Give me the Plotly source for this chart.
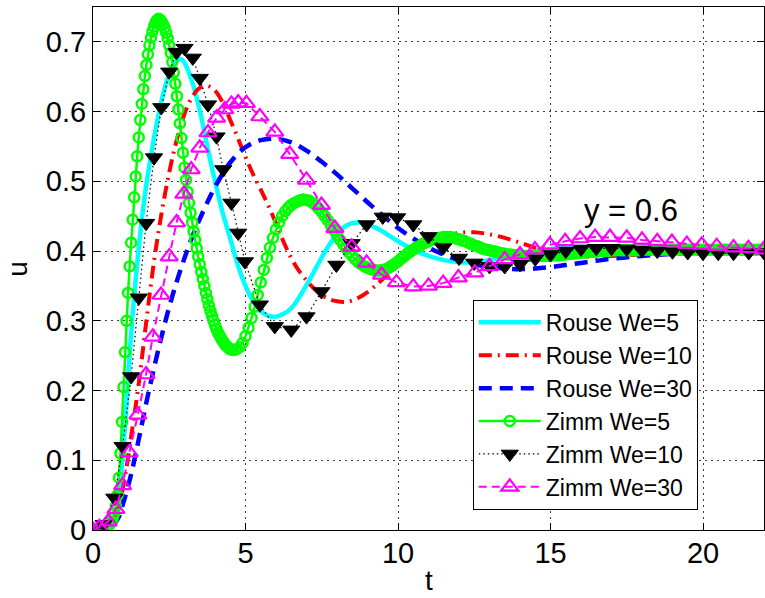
import plotly.graph_objects as go

# ---------------- data ----------------
X_TICKS = [0, 5, 10, 15, 20]
X_TICK_TEXT = ["0", "5", "10", "15", "20"]
Y_TICKS = [0, 0.1, 0.2, 0.3, 0.4, 0.5, 0.6, 0.7]
Y_TICK_TEXT = ["0", "0.1", "0.2", "0.3", "0.4", "0.5", "0.6", "0.7"]

# Rouse We=5 (cyan solid)
T_ROUSE5 = [0, 0.3, 0.6, 0.8, 0.9, 1.0, 1.1, 1.2, 1.3, 1.4, 1.5, 1.6, 1.7, 1.8, 1.9,
            2.0, 2.1, 2.2, 2.3, 2.4, 2.5, 2.6, 2.7, 2.8, 2.9, 3.0, 3.25, 3.5, 3.75, 4.0,
            4.25, 4.5, 4.75, 5.0, 5.25, 5.5, 5.75, 6.0, 6.25, 6.5, 6.75, 7.0, 7.25, 7.5,
            7.75, 8.0, 8.25, 8.5, 8.75, 9.0, 9.25, 9.5, 9.75, 10.0, 10.5, 11.0, 11.5,
            12.0, 12.5, 13.0, 13.5, 14.0, 14.5, 15.0, 15.5, 16.0, 17.0, 18.0, 19.0,
            20.0, 21.0, 22.0]
U_ROUSE5 = [0, 0.0, 0.008, 0.03, 0.07, 0.12, 0.18, 0.25, 0.31, 0.36, 0.405, 0.445, 0.48,
            0.51, 0.537, 0.562, 0.585, 0.606, 0.625, 0.641, 0.654, 0.664, 0.671, 0.675,
            0.675, 0.670, 0.643, 0.602, 0.55, 0.50, 0.455, 0.418, 0.38, 0.35, 0.328,
            0.314, 0.307, 0.306, 0.31, 0.318, 0.333, 0.351, 0.371, 0.391, 0.409, 0.424,
            0.435, 0.44, 0.441, 0.438, 0.434, 0.428, 0.421, 0.414, 0.402, 0.393, 0.387,
            0.384, 0.384, 0.387, 0.391, 0.396, 0.4, 0.403, 0.405, 0.406, 0.406, 0.405,
            0.403, 0.402, 0.401, 0.401]

# Rouse We=10 (red dash-dot)
T_ROUSE10 = [0, 0.5, 0.75, 1.0, 1.25, 1.5, 1.75, 2.0, 2.25, 2.5, 2.75, 3.0, 3.25, 3.5,
             3.75, 4.0, 4.25, 4.5, 4.75, 5.0, 5.25, 5.5, 5.75, 6.0, 6.25, 6.5, 6.75, 7.0,
             7.25, 7.5, 7.75, 8.0, 8.25, 8.5, 8.75, 9.0, 9.25, 9.5, 10.0, 10.5, 11.0,
             11.5, 12.0, 12.5, 13.0, 13.5, 14.0, 14.5, 15.0, 15.5, 16.0, 16.5, 17.0,
             18.0, 19.0, 20.0, 21.0, 22.0]
U_ROUSE10 = [0, 0.003, 0.02, 0.065, 0.134, 0.21, 0.30, 0.385, 0.455, 0.513, 0.56, 0.597,
             0.621, 0.634, 0.637, 0.630, 0.613, 0.588, 0.562, 0.535, 0.51, 0.488, 0.465,
             0.44, 0.413, 0.39, 0.372, 0.358, 0.346, 0.337, 0.331, 0.328, 0.327, 0.329,
             0.334, 0.341, 0.35, 0.36, 0.38, 0.398, 0.412, 0.421, 0.426, 0.427, 0.424,
             0.419, 0.412, 0.405, 0.399, 0.395, 0.393, 0.392, 0.393, 0.395, 0.398, 0.400,
             0.401, 0.401]

# Rouse We=30 (blue dashed)
T_ROUSE30 = [0, 0.5, 0.8, 1.0, 1.25, 1.5, 1.75, 2.0, 2.25, 2.5, 2.75, 3.0, 3.25, 3.5,
             3.75, 4.0, 4.5, 5.0, 5.5, 6.0, 6.5, 7.0, 7.5, 8.0, 8.5, 9.0, 9.5, 10.0,
             10.5, 11.0, 11.5, 12.0, 12.5, 13.0, 13.5, 14.0, 14.5, 15.0, 15.5, 16.0,
             16.5, 17.0, 17.5, 18.0, 19.0, 20.0, 21.0, 22.0]
U_ROUSE30 = [0, 0.002, 0.015, 0.04, 0.08, 0.13, 0.183, 0.232, 0.278, 0.32, 0.357, 0.39,
             0.42, 0.446, 0.47, 0.492, 0.527, 0.549, 0.559, 0.561, 0.556, 0.544, 0.528,
             0.51, 0.49, 0.47, 0.451, 0.433, 0.418, 0.405, 0.395, 0.387, 0.381, 0.377,
             0.375, 0.374, 0.375, 0.377, 0.38, 0.383, 0.386, 0.389, 0.391, 0.393, 0.396,
             0.398, 0.399, 0.4]

# Zimm We=5 (green, circle at every sample)
T_ZIMM5 = [0.0, 0.1, 0.2, 0.3, 0.4, 0.5, 0.55, 0.6, 0.65, 0.7, 0.75, 0.8, 0.85, 0.9, 0.95,
           1.0, 1.05, 1.1, 1.15, 1.2, 1.25, 1.3, 1.35, 1.4, 1.45, 1.5, 1.55, 1.6, 1.65,
           1.7, 1.75, 1.8, 1.85, 1.9, 1.95, 2.0, 2.05, 2.1, 2.15, 2.2, 2.25, 2.3, 2.35,
           2.4, 2.45, 2.5, 2.55, 2.6, 2.65, 2.7, 2.75, 2.8, 2.85, 2.9, 2.95, 3.0, 3.05,
           3.1, 3.15, 3.2, 3.25, 3.3, 3.35, 3.4, 3.45, 3.5, 3.55, 3.6, 3.65, 3.7, 3.75,
           3.8, 3.85, 3.9, 3.95, 4.0, 4.05, 4.1, 4.15, 4.2, 4.25, 4.3, 4.35, 4.4, 4.45,
           4.5,
           4.6, 4.7, 4.8, 4.9, 5.0, 5.1, 5.2, 5.3, 5.4, 5.5,
           5.6, 5.7, 5.8, 5.9, 6.0, 6.1, 6.2, 6.3, 6.4, 6.5,
           6.6, 6.7, 6.8, 6.9, 7.0, 7.1, 7.2, 7.3, 7.4, 7.5,
           7.6, 7.7, 7.8, 7.9, 8.0, 8.1, 8.2, 8.3, 8.4, 8.5,
           8.6, 8.7, 8.8, 8.9, 9.0, 9.1, 9.2, 9.3, 9.4, 9.5,
           9.6, 9.7, 9.8, 9.9, 10.0, 10.1, 10.2, 10.3, 10.4, 10.5,
           10.6, 10.7, 10.8, 10.9, 11.0, 11.1, 11.2, 11.3, 11.4, 11.5,
           11.6, 11.7, 11.8, 11.9, 12.0, 12.1, 12.2, 12.3, 12.4, 12.5,
           12.6, 12.7, 12.8, 12.9, 13.0, 13.1, 13.2, 13.3, 13.4, 13.5,
           13.6, 13.7, 13.8, 13.9, 14.0, 14.1, 14.2, 14.3, 14.4, 14.5,
           14.6, 14.7, 14.8, 14.9, 15.0, 15.1, 15.2, 15.3, 15.4, 15.5,
           15.6, 15.7, 15.8, 15.9, 16.0, 16.1, 16.2, 16.3, 16.4, 16.5,
           16.6, 16.7, 16.8, 16.9, 17.0, 17.1, 17.2, 17.3, 17.4, 17.5,
           17.6, 17.7, 17.8, 17.9, 18.0, 18.1, 18.2, 18.3, 18.4, 18.5,
           18.6, 18.7, 18.8, 18.9, 19.0, 19.1, 19.2, 19.3, 19.4, 19.5,
           19.6, 19.7, 19.8, 19.9, 20.0, 20.1, 20.2, 20.3, 20.4, 20.5,
           20.6, 20.7, 20.8, 20.9, 21.0, 21.1, 21.2, 21.3, 21.4, 21.5,
           21.6, 21.7, 21.8, 21.9, 22.0]
U_ZIMM5 = [0.0, 0.0, 0.0, 0.001, 0.002, 0.005, 0.008, 0.012, 0.017, 0.024, 0.034, 0.050,
           0.075, 0.110, 0.155, 0.205, 0.255, 0.300, 0.340, 0.378, 0.412, 0.445, 0.477,
           0.507, 0.536, 0.563, 0.588, 0.611, 0.632, 0.651, 0.667, 0.682, 0.695, 0.706,
           0.715, 0.722, 0.728, 0.731, 0.733, 0.732, 0.729, 0.725, 0.720, 0.713, 0.705,
           0.695, 0.684, 0.671, 0.656, 0.640, 0.622, 0.603, 0.583, 0.562, 0.541, 0.520,
           0.502, 0.485, 0.469, 0.455, 0.441, 0.428, 0.416, 0.404, 0.392, 0.381, 0.370,
           0.360, 0.350, 0.340, 0.331, 0.322, 0.314, 0.307, 0.300, 0.294, 0.288, 0.283,
           0.279, 0.275, 0.271, 0.268, 0.265, 0.263, 0.261, 0.259,
           0.258, 0.259, 0.262, 0.268, 0.278, 0.290, 0.304, 0.320, 0.337, 0.355,
           0.373, 0.390, 0.405, 0.419, 0.431, 0.441, 0.450, 0.457, 0.462, 0.466,
           0.469, 0.471, 0.473, 0.474, 0.473, 0.472, 0.469, 0.466, 0.461, 0.456,
           0.450, 0.444, 0.437, 0.430, 0.423, 0.416, 0.410, 0.404, 0.398, 0.393,
           0.388, 0.384, 0.381, 0.378, 0.376, 0.374, 0.373, 0.372, 0.372, 0.373,
           0.374, 0.376, 0.379, 0.382, 0.385, 0.389, 0.392, 0.396, 0.399, 0.402,
           0.405, 0.407, 0.410, 0.412, 0.414, 0.416, 0.417, 0.418, 0.419, 0.420,
           0.420, 0.420, 0.419, 0.418, 0.417, 0.415, 0.414, 0.412, 0.410, 0.408,
           0.407, 0.405, 0.403, 0.402, 0.401, 0.400, 0.399, 0.398, 0.397, 0.396,
           0.395, 0.395, 0.394, 0.394, 0.394, 0.393, 0.393, 0.393, 0.393, 0.393,
           0.393, 0.393, 0.393, 0.393, 0.393, 0.394, 0.394, 0.394, 0.395, 0.395,
           0.396, 0.396, 0.397, 0.397, 0.398, 0.398, 0.398, 0.399, 0.399, 0.399,
           0.400, 0.400, 0.400, 0.400, 0.401, 0.401, 0.401, 0.401, 0.401, 0.401,
           0.401, 0.401, 0.401, 0.401, 0.402, 0.402, 0.402, 0.402, 0.402, 0.402,
           0.402, 0.402, 0.402, 0.402, 0.402, 0.402, 0.402, 0.402, 0.402, 0.402,
           0.402, 0.402, 0.402, 0.402, 0.402, 0.402, 0.402, 0.402, 0.402, 0.402,
           0.402, 0.402, 0.402, 0.402, 0.402, 0.402, 0.402, 0.402, 0.402, 0.402,
           0.402, 0.402, 0.402, 0.402, 0.402]

# Zimm We=10 (black dotted, filled down-triangles)
T_ZIMM10 = [0.0, 0.35, 0.7, 0.97, 1.25, 1.5, 1.74, 2.0, 2.24, 2.5, 2.74, 3.0, 3.27, 3.5,
            3.77, 4.05, 4.27, 4.54, 4.76, 4.98, 5.47, 5.96, 6.5, 7.0, 7.49, 7.98, 8.48,
            8.97, 9.5, 9.97, 10.5, 11.0, 11.48, 12.0, 12.5, 13.0, 13.5, 14.0, 14.5, 15.0,
            15.5, 16.0, 16.5, 17.0, 17.5, 18.0, 18.5, 19.0, 19.5, 20.0, 20.5, 21.0, 21.5,
            22.0]
U_ZIMM10 = [0.0, 0.008, 0.046, 0.12, 0.22, 0.333, 0.44, 0.534, 0.606, 0.657, 0.685,
            0.691, 0.677, 0.648, 0.61, 0.564, 0.517, 0.469, 0.426, 0.385, 0.323, 0.292,
            0.287, 0.306, 0.342, 0.38, 0.411, 0.438, 0.449, 0.448, 0.438, 0.421, 0.405,
            0.39, 0.383, 0.378, 0.378, 0.381, 0.389, 0.395, 0.40, 0.403, 0.404, 0.404,
            0.403, 0.401, 0.40, 0.399, 0.398, 0.397, 0.397, 0.397, 0.398, 0.398]

# Zimm We=30 (magenta dashed, open up-triangles)
T_ZIMM30 = [0.0, 0.21, 0.5, 0.75, 0.97, 1.19, 1.47, 1.74, 1.96, 2.23, 2.5, 2.74, 2.98,
            3.22, 3.5, 3.77, 4.05, 4.32, 4.54, 4.76, 5.03, 5.47, 5.96, 6.45, 7.0, 7.49,
            7.93, 8.48, 8.97, 9.46, 9.95, 10.5, 11.0, 11.48, 11.98, 12.52, 13.0, 13.5,
            14.0, 14.49, 14.98, 15.48, 15.97, 16.46, 16.95, 17.5, 18.0, 18.5, 18.98,
            19.47, 19.96, 20.45, 21.0, 21.49, 21.98]
U_ZIMM30 = [0.0, 0.004, 0.012, 0.03, 0.064, 0.111, 0.165, 0.223, 0.277, 0.337, 0.392,
            0.441, 0.482, 0.517, 0.548, 0.57, 0.591, 0.603, 0.611, 0.613, 0.612, 0.593,
            0.571, 0.539, 0.502, 0.466, 0.433, 0.406, 0.383, 0.366, 0.355, 0.349, 0.35,
            0.354, 0.362, 0.369, 0.378, 0.388, 0.395, 0.402, 0.409, 0.414, 0.418, 0.42,
            0.42, 0.419, 0.416, 0.414, 0.413, 0.41, 0.409, 0.407, 0.405, 0.404, 0.402]

ANNOT_TEXT = "y = 0.6"
ANNOT_X = 17.63
ANNOT_Y = 0.458
X_TITLE = "t"
Y_TITLE = "u"

# ---------------- figure ----------------
FONT = "Liberation Sans, Arial, Helvetica, sans-serif"
fig = go.Figure()

fig.add_trace(go.Scatter(x=T_ROUSE5, y=U_ROUSE5, mode="lines", name="Rouse We=5",
                         line=dict(color="#00FFFF", width=4.5, shape="spline")))
fig.add_trace(go.Scatter(x=T_ROUSE10, y=U_ROUSE10, mode="lines", name="Rouse We=10",
                         line=dict(color="#FF0000", width=4, shape="spline",
                                   dash="13px,6px,2px,6px")))
fig.add_trace(go.Scatter(x=T_ROUSE30, y=U_ROUSE30, mode="lines", name="Rouse We=30",
                         line=dict(color="#0000FF", width=4.5, shape="spline",
                                   dash="13px,8px")))
fig.add_trace(go.Scatter(x=T_ZIMM5, y=U_ZIMM5, mode="lines+markers", name="Zimm We=5",
                         line=dict(color="#00FF00", width=2.5),
                         marker=dict(symbol="circle-open", size=10, color="#00FF00",
                                     line=dict(width=2.5, color="#00FF00"))))
fig.add_trace(go.Scatter(x=T_ZIMM10, y=U_ZIMM10, mode="lines+markers", name="Zimm We=10",
                         line=dict(color="black", width=1.2, dash="1.5px,3px"),
                         marker=dict(symbol="triangle-down", size=15, color="black",
                                     line=dict(width=1, color="black"))))
fig.add_trace(go.Scatter(x=T_ZIMM30, y=U_ZIMM30, mode="lines+markers", name="Zimm We=30",
                         line=dict(color="#FF00FF", width=2, dash="8px,5px"),
                         marker=dict(symbol="triangle-up-open", size=15, color="#FF00FF",
                                     line=dict(width=2.2, color="#FF00FF"))))

fig.add_annotation(x=ANNOT_X, y=ANNOT_Y, xref="x", yref="y", text=ANNOT_TEXT,
                   showarrow=False, xanchor="center", yanchor="middle",
                   font=dict(family=FONT, size=31, color="black"))
# axis titles placed as paper annotations, kept fully inside the page
fig.add_annotation(x=0.5, y=-0.1275, xref="paper", yref="paper", text=X_TITLE,
                   showarrow=False, xanchor="center", yanchor="bottom", borderpad=0,
                   font=dict(family=FONT, size=28, color="black"))
fig.add_annotation(x=-0.1375, y=0.5, xref="paper", yref="paper", text=Y_TITLE,
                   showarrow=False, xanchor="left", yanchor="middle", textangle=-90,
                   borderpad=0, font=dict(family=FONT, size=28, color="black"))

axis_common = dict(
    ticks="inside", ticklen=7, tickcolor="black", tickwidth=1,
    showline=True, linecolor="black", linewidth=1, mirror="ticks",
    showgrid=True, gridcolor="rgba(0,0,0,0.75)", gridwidth=1, griddash="2px,4px",
    zeroline=False, tickfont=dict(family=FONT, size=29, color="black"),
)

fig.update_xaxes(range=[0, 22], tickmode="array", tickvals=X_TICKS, ticktext=X_TICK_TEXT,
                 ticklabelstandoff=-3, **axis_common)
fig.update_yaxes(range=[0, 0.75], tickmode="array", tickvals=Y_TICKS, ticktext=Y_TICK_TEXT,
                 **axis_common)

fig.update_layout(
    width=765, height=598,
    margin=dict(l=93, r=1, t=7, b=68, autoexpand=False),
    paper_bgcolor="white", plot_bgcolor="white",
    font=dict(family=FONT, color="black"),
    legend=dict(x=0.566, y=0.44, xanchor="left", yanchor="top", bgcolor="white",
                bordercolor="black", borderwidth=1, itemwidth=62,
                font=dict(family=FONT, size=23, color="black"), tracegroupgap=0),
)

fig.write_html("out.html", config={"displayModeBar": False},
               post_script="document.body.style.margin='0';")
